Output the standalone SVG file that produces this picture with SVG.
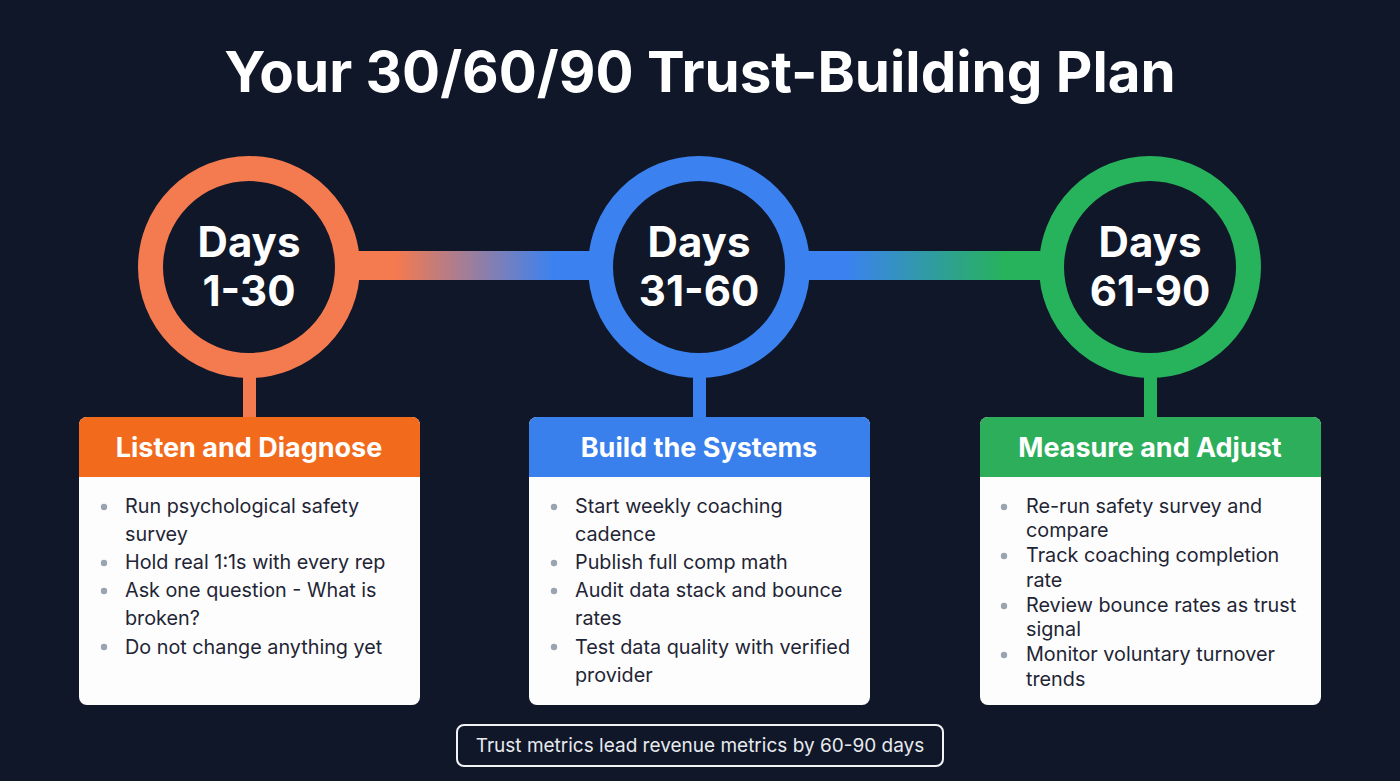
<svg xmlns="http://www.w3.org/2000/svg" width="1400" height="781" viewBox="0 0 1400 781">
<defs>
<linearGradient id="g1" x1="362" y1="0" x2="588" y2="0" gradientUnits="userSpaceOnUse">
<stop offset="0.15" stop-color="#F47A50"/><stop offset="0.85" stop-color="#3B82F0"/>
</linearGradient>
<linearGradient id="g2" x1="812" y1="0" x2="1038" y2="0" gradientUnits="userSpaceOnUse">
<stop offset="0.15" stop-color="#3B82F0"/><stop offset="0.85" stop-color="#27B25C"/>
</linearGradient>
<clipPath id="c1"><rect x="79" y="417" width="341" height="288" rx="8"/></clipPath>
<clipPath id="c2"><rect x="529" y="417" width="341" height="288" rx="8"/></clipPath>
<clipPath id="c3"><rect x="980" y="417" width="341" height="288" rx="8"/></clipPath>
</defs>
<style>
.title{font-family:Inter,"Liberation Sans",sans-serif;font-weight:700;font-size:56.5px;fill:#ffffff;text-anchor:middle}
.days{font-family:Inter,"Liberation Sans",sans-serif;font-weight:700;font-size:42px;fill:#ffffff;text-anchor:middle}
.head{font-family:Inter,"Liberation Sans",sans-serif;font-weight:700;font-size:27px;fill:#ffffff;text-anchor:middle}
.item{font-family:Inter,"Liberation Sans",sans-serif;font-size:19.8px;fill:#1f2535}
.dot{fill:#9aa3b0}
.body{fill:#fdfdfd}
.ring{fill:#0f1729;stroke-width:25}
.note{font-family:Inter,"Liberation Sans",sans-serif;font-size:19px;fill:#e8eaee;text-anchor:middle}
</style>
<rect width="1400" height="781" fill="#0f1729"/>
<text class="title" x="700" y="92">Your 30/60/90 Trust-Building Plan</text>
<g id="connectors">
<rect x="355" y="251" width="240" height="29" fill="url(#g1)"/>
<rect x="805" y="251" width="240" height="29" fill="url(#g2)"/>
<rect x="243" y="372" width="13" height="48" fill="#F47A50"/>
<rect x="693" y="372" width="13" height="48" fill="#3B82F0"/>
<rect x="1144" y="372" width="13" height="48" fill="#27B25C"/>
</g>
<g id="phase1">
<circle class="ring" cx="249" cy="267" r="98.5" stroke="#F47A50"/>
<text class="days" x="249" y="257">Days</text>
<text class="days" x="249" y="306">1-30</text>
</g>
<g id="phase2">
<circle class="ring" cx="699" cy="267" r="98.5" stroke="#3B82F0"/>
<text class="days" x="699" y="257">Days</text>
<text class="days" x="699" y="306">31-60</text>
</g>
<g id="phase3">
<circle class="ring" cx="1150" cy="267" r="98.5" stroke="#27B25C"/>
<text class="days" x="1150" y="257">Days</text>
<text class="days" x="1150" y="306">61-90</text>
</g>
<g id="card1">
<g clip-path="url(#c1)">
<rect class="body" x="79" y="417" width="341" height="288"/>
<rect x="79" y="417" width="341" height="60" fill="#F26A1C"/>
</g>
<text class="head" x="249" y="457">Listen and Diagnose</text>
<circle class="dot" cx="104" cy="507" r="3.2"/>
<circle class="dot" cx="104" cy="563" r="3.2"/>
<circle class="dot" cx="104" cy="591" r="3.2"/>
<circle class="dot" cx="104" cy="647" r="3.2"/>
<text class="item" x="125" y="513">Run psychological safety</text>
<text class="item" x="125" y="541">survey</text>
<text class="item" x="125" y="569">Hold real 1:1s with every rep</text>
<text class="item" x="125" y="597">Ask one question - What is</text>
<text class="item" x="125" y="625">broken?</text>
<text class="item" x="125" y="654">Do not change anything yet</text>
</g>
<g id="card2">
<g clip-path="url(#c2)">
<rect class="body" x="529" y="417" width="341" height="288"/>
<rect x="529" y="417" width="341" height="60" fill="#3A80EC"/>
</g>
<text class="head" x="699" y="457">Build the Systems</text>
<circle class="dot" cx="554" cy="507" r="3.2"/>
<circle class="dot" cx="554" cy="563" r="3.2"/>
<circle class="dot" cx="554" cy="591" r="3.2"/>
<circle class="dot" cx="554" cy="647" r="3.2"/>
<text class="item" x="575" y="513">Start weekly coaching</text>
<text class="item" x="575" y="541">cadence</text>
<text class="item" x="575" y="569">Publish full comp math</text>
<text class="item" x="575" y="597">Audit data stack and bounce</text>
<text class="item" x="575" y="625">rates</text>
<text class="item" x="575" y="654">Test data quality with verified</text>
<text class="item" x="575" y="682">provider</text>
</g>
<g id="card3">
<g clip-path="url(#c3)">
<rect class="body" x="980" y="417" width="341" height="288"/>
<rect x="980" y="417" width="341" height="60" fill="#2DAE5B"/>
</g>
<text class="head" x="1150" y="457">Measure and Adjust</text>
<circle class="dot" cx="1004" cy="507" r="3.2"/>
<circle class="dot" cx="1004" cy="556" r="3.2"/>
<circle class="dot" cx="1004" cy="606" r="3.2"/>
<circle class="dot" cx="1004" cy="655" r="3.2"/>
<text class="item" x="1026" y="513">Re-run safety survey and</text>
<text class="item" x="1026" y="537">compare</text>
<text class="item" x="1026" y="562">Track coaching completion</text>
<text class="item" x="1026" y="587">rate</text>
<text class="item" x="1026" y="612">Review bounce rates as trust</text>
<text class="item" x="1026" y="636">signal</text>
<text class="item" x="1026" y="661">Monitor voluntary turnover</text>
<text class="item" x="1026" y="686">trends</text>
</g>
<g id="note">
<rect x="457" y="725" width="486" height="41" rx="7" fill="none" stroke="#f2f3f5" stroke-width="2"/>
<text class="note" x="700" y="752">Trust metrics lead revenue metrics by 60-90 days</text>
</g>
</svg>
